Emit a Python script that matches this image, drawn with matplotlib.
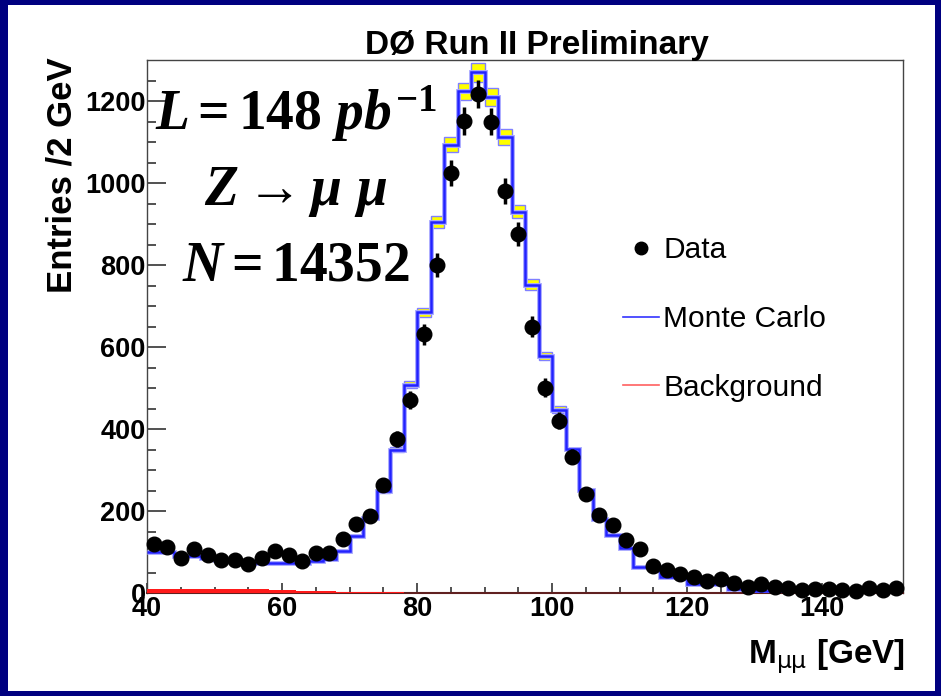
import numpy as np
import matplotlib
matplotlib.use('Agg')
import matplotlib.pyplot as plt
from matplotlib.lines import Line2D
from matplotlib.patches import Rectangle

# M_mumu histogram, 2 GeV bins from 40 to 152 GeV
bin_edges = np.arange(40, 154, 2)
bin_centers = bin_edges[:-1] + 1

# data counts per bin
data = [119, 113, 85, 107, 93, 81, 81, 71, 85, 103,
        93, 77, 98, 98, 131, 168, 189, 263, 376, 470,
        631, 800, 1024, 1152, 1217, 1150, 981, 875, 650, 501,
        420, 332, 242, 191, 167, 130, 108, 67, 56, 47,
        38, 30, 33, 25, 15, 22, 14, 12, 8, 10,
        10, 8, 5, 12, 7, 12]

# Monte Carlo prediction
mc = [101, 99, 90, 90, 86, 81, 78, 76, 74, 72,
      72, 73, 77, 83, 103, 140, 184, 248, 350, 508,
      685, 905, 1093, 1224, 1270, 1210, 1112, 930, 752, 578,
      447, 352, 251, 180, 141, 110, 64, 64, 39, 39,
      22, 22, 22, 10, 10, 6, 6, 5, 5, 4,
      4, 4, 3, 3, 3, 3]

# MC uncertainty (yellow boxes), only visible around the peak
mc_err = [0, 0, 0, 0, 0, 0, 0, 0, 0, 0,
          0, 0, 0, 0, 0, 0, 0, 4, 6, 8,
          11, 14, 18, 21, 23, 21, 19, 16, 13, 10,
          8, 0, 0, 0, 0, 0, 0, 0, 0, 0,
          0, 0, 0, 0, 0, 0, 0, 0, 0, 0,
          0, 0, 0, 0, 0, 0]

# background
bkg = [9, 9, 10, 10, 10, 10, 10, 9, 9, 8,
       7, 6, 5, 4, 3, 3, 2, 2, 2, 1,
       1, 1, 1, 1, 0, 0, 0, 0, 0, 0,
       0, 0, 0, 0, 0, 0, 0, 0, 0, 0,
       0, 0, 0, 0, 0, 0, 0, 0, 0, 0,
       0, 0, 0, 0, 0, 0]

data = np.array(data, dtype=float)
mc = np.array(mc, dtype=float)
mc_err = np.array(mc_err, dtype=float)
bkg = np.array(bkg, dtype=float)

plt.rcParams['font.family'] = ['Liberation Sans', 'DejaVu Sans']
plt.rcParams['mathtext.fontset'] = 'custom'
plt.rcParams['mathtext.rm'] = 'Liberation Serif:bold'
plt.rcParams['mathtext.it'] = 'Liberation Serif:italic:bold'
plt.rcParams['mathtext.bf'] = 'Liberation Serif:bold'

W, H = 941, 696
fig = plt.figure(figsize=(W / 100, H / 100), dpi=100)
fig.patch.set_facecolor('#000080')
fig.add_artist(Rectangle((8 / W, 5 / H), (W - 14) / W, (H - 10) / H,
                         transform=fig.transFigure, facecolor='white',
                         edgecolor='none', zorder=-5))

ax = fig.add_axes([147 / W, 1 - 593 / H, (903 - 147) / W, (593 - 60) / H])
ax.set_xlim(40, 152)
ax.set_ylim(0, 1300)

# background (red)
ax.stairs(bkg, bin_edges, fill=True, color='#ff1a1a', zorder=2.6)

# MC histogram with uncertainty boxes
m = mc_err > 0
ax.bar(bin_centers[m], 2 * mc_err[m], bottom=mc[m] - mc_err[m], width=2,
       color='#ffff00', edgecolor='#8080ff', linewidth=1, zorder=3)
ax.stairs(mc, bin_edges, baseline=None, color='#a8a8ff', linewidth=3.5, zorder=4)
ax.stairs(mc, bin_edges, baseline=None, color='#2222ff', linewidth=1.8, zorder=5)

# data points
ax.errorbar(bin_centers, data, yerr=np.sqrt(data), fmt='o', color='black',
            ms=10.5, elinewidth=2.5, capsize=0, zorder=6, clip_on=False)

# axes style (ROOT-like)
ax.set_xticks(np.arange(40, 141, 20))
ax.set_xticks(np.arange(40, 152, 5), minor=True)
ax.set_yticks(np.arange(0, 1201, 200))
ax.set_yticks(np.arange(0, 1300, 50), minor=True)
ax.tick_params(axis='both', which='both', direction='in', top=False, right=False,
               color='#333333', width=1.2, labelsize=19.5)
ax.tick_params(axis='y', which='major', length=14, pad=1)
ax.tick_params(axis='y', which='minor', length=6.5)
ax.tick_params(axis='x', which='major', length=7, pad=2)
ax.tick_params(axis='x', which='minor', length=4)
for lab in ax.get_xticklabels() + ax.get_yticklabels():
    lab.set_fontweight('bold')
for s in ['top', 'right', 'left']:
    ax.spines[s].set_color('#444444')
    ax.spines[s].set_linewidth(1.0)
ax.spines['bottom'].set_color('#602020')
ax.spines['bottom'].set_linewidth(1.5)

# legend
handles = [Line2D([], [], marker='o', color='black', ls='none', ms=9),
           Line2D([], [], color='#3333ff', lw=1.2),
           Line2D([], [], color='#ff6060', lw=1.2)]
ax.legend(handles, ['Data', 'Monte Carlo', 'Background'], loc='center left',
          bbox_to_anchor=(623 / W, 1 - 319 / H), bbox_transform=fig.transFigure,
          frameon=False, fontsize=21.5, borderpad=0, borderaxespad=0,
          handlelength=1.2, handletextpad=0.15, labelspacing=1.37)

# titles
fig.text(537 / W, 1 - 54 / H, 'DØ Run II Preliminary', ha='center',
         va='baseline', fontsize=24, fontweight='bold')
fig.text(62 / W, 1 - 57 / H, 'Entries /2 GeV', rotation=90, ha='center',
         va='top', fontsize=25, fontweight='bold')
fig.text(905 / W, 1 - 663 / H, r'M$_{\mathrm{\mu\mu}}$ [GeV]', ha='right',
         va='baseline', fontsize=24, fontweight='bold',
         math_fontfamily='dejavusans')

# big annotation
cx = 296 / W
fig.text(cx, 1 - 130 / H, r'$L = 148\ pb^{-1}$', ha='center', va='baseline', fontsize=40)
fig.text(cx, 1 - 205 / H, r'$Z \rightarrow \mu\ \mu$', ha='center', va='baseline', fontsize=40)
fig.text(cx, 1 - 280 / H, r'$N = 14352$', ha='center', va='baseline', fontsize=40)

fig.savefig('out.png', dpi=100, facecolor=fig.get_facecolor())
